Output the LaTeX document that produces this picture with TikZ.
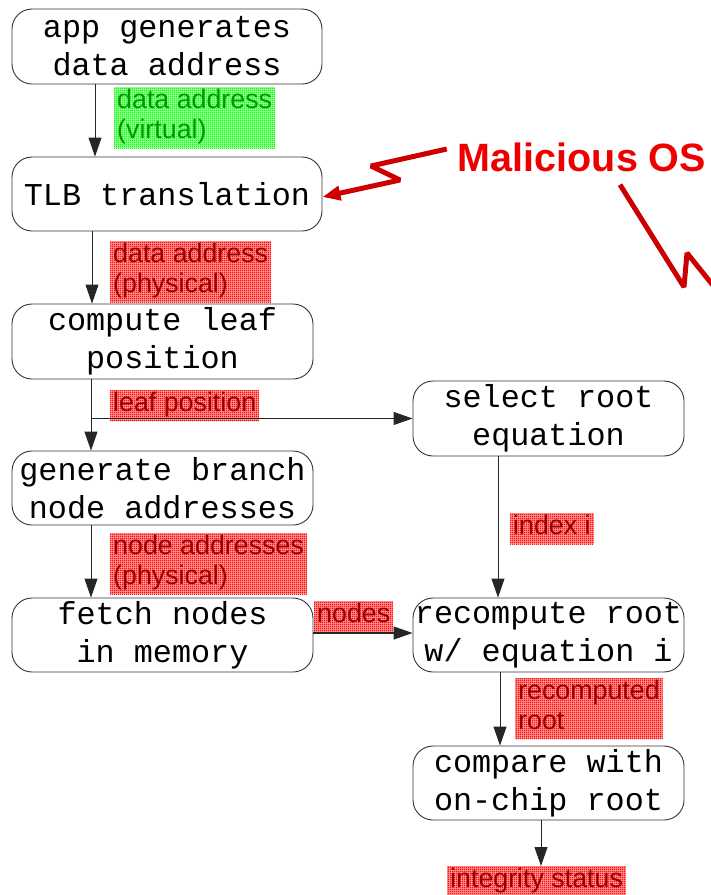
\documentclass[tikz,border=0pt]{standalone}
\usepackage{fontspec}
\setmainfont{Liberation Sans}
\newfontfamily\boxfont{Liberation Mono}
\usetikzlibrary{arrows.meta,patterns.meta,calc}

\definecolor{boltred}{RGB}{204,0,0}
\definecolor{osred}{RGB}{238,0,0}
\definecolor{tagred}{RGB}{255,150,150}
\definecolor{tagredtext}{RGB}{150,0,0}
\definecolor{taggreen}{RGB}{160,255,160}
\definecolor{taggreentext}{RGB}{0,150,0}

% fine square grid used as the texture of the edge labels
\tikzdeclarepattern{
  name=finegrid,
  type=uncolored,
  bottom left={(0pt,0pt)},
  top right={(2pt,2pt)},
  tile size={(2pt,2pt)},
  code={\draw[line width=0.7pt] (0pt,1pt) -- (2pt,1pt) (1pt,0pt) -- (1pt,2pt);}
}

\tikzset{
  stepbox/.style={draw=black!80, line width=0.9pt, rounded corners=20pt,
    inner sep=0pt, align=center,
    font=\boxfont\fontsize{31.8}{38}\selectfont},
  tagbase/.style={anchor=north west, inner xsep=3pt, inner ysep=0.5pt,
    align=left, font=\fontsize{26.8}{30}\selectfont},
  redtag/.style={tagbase, fill=tagred, text=tagredtext,
    postaction={pattern=finegrid, pattern color=red}},
  greentag/.style={tagbase, fill=taggreen, text=taggreentext,
    postaction={pattern=finegrid, pattern color=green}},
  flow/.style={draw=black!85, line width=0.9pt,
    -{Triangle[length=19pt,width=13pt]}},
  bolt/.style={draw=boltred, line width=5pt, line join=bevel},
}

\begin{document}
\begin{tikzpicture}[x=1pt,y=-1pt]
\useasboundingbox (0,0) rectangle (711,895);

% processing steps
\node[stepbox, minimum width=310pt, minimum height=75pt] (b1) at (167,46.5) {app generates\\data address};
\node[stepbox, minimum width=310pt, minimum height=74pt] (b2) at (167,194) {TLB translation};
\node[stepbox, minimum width=301pt, minimum height=75pt] (b3) at (162.5,341.5) {compute leaf\\position};
\node[stepbox, minimum width=301pt, minimum height=74pt] (b4) at (162.5,488) {generate branch\\node addresses};
\node[stepbox, minimum width=301pt, minimum height=74pt] (b5) at (162.5,635) {fetch nodes\\in memory};
\node[stepbox, minimum width=271pt, minimum height=75pt] (b6) at (548.5,418.5) {select root\\equation};
\node[stepbox, minimum width=271pt, minimum height=74pt] (b7) at (548.5,635) {recompute root\\w/ equation i};
\node[stepbox, minimum width=271pt, minimum height=74pt] (b8) at (548.5,783) {compare with\\on-chip root};

% edge labels
\node[greentag] (t1) at (114,87) {\strut data address\\\strut (virtual)};
\node[redtag] (t2) at (110,241) {\strut data address\\\strut (physical)};
\node[redtag] (t3) at (110,390) {\strut leaf position};
\node[redtag] (t4) at (510,513) {\strut index i};
\node[redtag] (t5) at (110,533) {\strut node addresses\\\strut (physical)};
\node[redtag] (t6) at (314,601) {\strut nodes};
\node[redtag] (t7) at (515,678) {\strut recomputed\\\strut root};
\node[redtag] (t8) at (447,866) {\strut integrity status};

% columns of the vertical connectors
\coordinate (ca) at (95,0);
\coordinate (cb) at (92,0);
\coordinate (cc) at (91,0);
\coordinate (cd) at (498,0);
\coordinate (ce) at (500,0);
\coordinate (cf) at (541,0);
\coordinate (rn) at (0,633);
\coordinate (split) at (b6.west -| cc);

% data flow
\draw[flow] (b1.south -| ca) -- (b2.north -| ca);
\draw[flow] (b2.south -| cb) -- (b3.north -| cb);
\draw[flow] (b3.south -| cc) -- (b4.north -| cc);
\draw[flow] (split) -- (b6.west);
\draw[flow] (b4.south -| cc) -- (b5.north -| cc);
\draw[flow, line width=1.3pt] (b5.east |- rn) -- (b7.west |- rn);
\draw[flow] (b6.south -| cd) -- (b7.north -| cd);
\draw[flow] (b7.south -| ce) -- (b8.north -| ce);
\draw[flow] (b8.south -| cf) -- (t8.north -| cf);

% attacker
\node[font=\bfseries\fontsize{39.5}{44}\selectfont, text=osred, inner sep=0pt] (os) at (582,157) {Malicious OS};

\coordinate (za) at ($(os.west)+(-11,-8)$);
\draw[bolt, -{Triangle[length=18pt,width=14pt]}]
  (za) -- (371,166) -- (400,180) -- ($(b2.east)+(0,3)$);

\coordinate (zb) at ($(os.south)+(38,13)$);
\draw[bolt] (zb) -- (684,287) -- (687,253) -- (740,319);
\end{tikzpicture}
\end{document}
